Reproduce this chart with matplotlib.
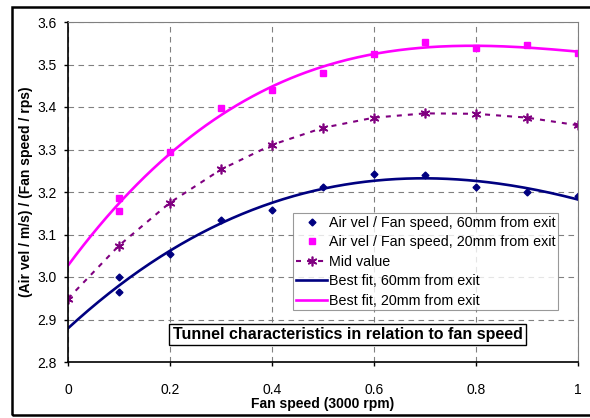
import matplotlib
matplotlib.use('Agg')
import numpy as np
import matplotlib.pyplot as plt
from matplotlib.patches import Rectangle

plt.rcParams['font.family'] = ['Liberation Sans', 'DejaVu Sans']

# fan speed (fraction of 3000 rpm), 0.1 was measured twice
fan = [0.1, 0.1, 0.2, 0.3, 0.4, 0.5, 0.6, 0.7, 0.8, 0.9, 1.0]
vel_60mm = [3.000, 2.965, 3.053, 3.134, 3.158, 3.211, 3.243, 3.240, 3.212, 3.199, 3.191]
vel_20mm = [3.156, 3.185, 3.294, 3.397, 3.440, 3.481, 3.524, 3.552, 3.538, 3.547, 3.526]

mid_x = [0, 0.1, 0.2, 0.3, 0.4, 0.5, 0.6, 0.7, 0.8, 0.9, 1.0]
mid_val = [2.949, 3.074, 3.175, 3.253, 3.311, 3.351, 3.375, 3.385, 3.384, 3.375, 3.357]

navy = '#000080'
pink = '#FF00FF'
purple = '#800080'

fig = plt.figure(figsize=(5.9, 4.18), dpi=100)
ax = fig.add_axes([68/590, 1 - 362/418, 510/590, 340/418])

ax.plot(fan, vel_60mm, linestyle='none', marker='D', ms=3.5, color=navy,
        label='Air vel / Fan speed, 60mm from exit')
ax.plot(fan, vel_20mm, linestyle='none', marker='s', ms=4.5, color=pink,
        label='Air vel / Fan speed, 20mm from exit')
ax.plot(mid_x, mid_val, color=purple, lw=1.5, dashes=(2.4, 2.9),
        marker=(6, 2, 0), ms=7, mew=1.2, label='Mid value')

# cubic best fits through the measured points
xs = np.linspace(0, 1, 200)
fit60 = np.polyval(np.polyfit(fan, vel_60mm, 3), xs)
fit20 = np.polyval(np.polyfit(fan, vel_20mm, 3), xs)
ax.plot(xs, fit60, color=navy, lw=1.9, label='Best fit, 60mm from exit')
ax.plot(xs, fit20, color=pink, lw=1.9, label='Best fit, 20mm from exit')

ax.set_xlim(0, 1)
ax.set_ylim(2.8, 3.6)
ax.set_xticks([0, 0.2, 0.4, 0.6, 0.8, 1])
ax.set_xticklabels(['0', '0.2', '0.4', '0.6', '0.8', '1'])
ax.set_yticks(np.arange(2.8, 3.61, 0.1))
ax.set_yticklabels(['%.1f' % v for v in np.arange(2.8, 3.61, 0.1)])
ax.tick_params(direction='out', length=3, width=1, labelsize=10, colors='black', pad=5)
ax.tick_params(axis='x', pad=12)
ax.grid(True, color='#808080', lw=0.8, dashes=(5, 4))
for s in ['top', 'right']:
    ax.spines[s].set_color('#808080')
for s in ['left', 'bottom']:
    ax.spines[s].set_color('black')
    ax.spines[s].set_linewidth(1.2)

ax.set_xlabel('Fan speed (3000 rpm)', fontsize=10, fontweight='bold', labelpad=0)
ax.set_ylabel('(Air vel / m/s) / (Fan speed / rps)', fontsize=10, fontweight='bold', labelpad=3)

leg = ax.legend(loc='upper left', bbox_to_anchor=(225/510, (362-213)/340), fontsize=10.3,
                frameon=True, fancybox=False, borderpad=0.2, labelspacing=0.38,
                handlelength=2.2, handletextpad=0.1, borderaxespad=0)
leg.get_frame().set_edgecolor('#808080')
leg.get_frame().set_linewidth(0.8)

ax.text(0.548, 0.08, 'Tunnel characteristics in relation to fan speed', transform=ax.transAxes,
        ha='center', va='center', fontsize=11.5, fontweight='bold',
        bbox=dict(boxstyle='square,pad=0.2', fc='white', ec='black', lw=1))

# outer chart frame
fig.patches.append(Rectangle((12/590, 1 - 415/418), 0.99, 408/418, transform=fig.transFigure,
                             fill=False, ec='black', lw=1.8))

fig.savefig('out.png', dpi=100)
